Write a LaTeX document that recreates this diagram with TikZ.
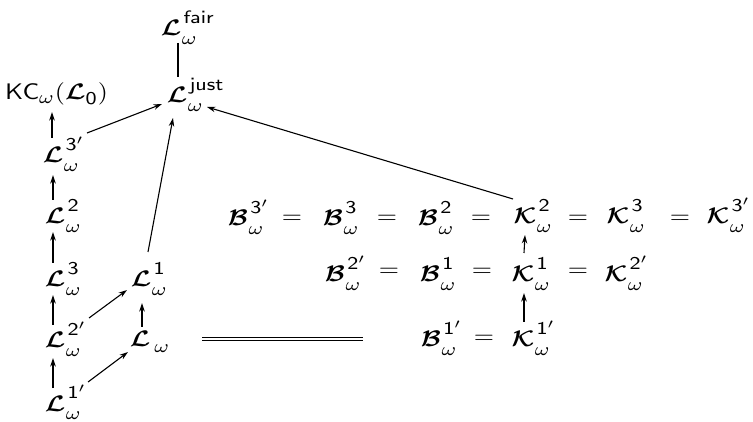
\documentclass[tikz,border=0pt]{standalone}
\usepackage{amsmath}
\usepackage{graphicx}
\usetikzlibrary{arrows.meta}
\DeclareMathSizes{10}{10}{8}{6}
\newcommand\Sz[1]{\scalebox{2.6}[2.25]{#1}}
% main letter with subscript omega and a superscript, scripts not counted in width
\newcommand\ScW[2]{\Sz{$\boldsymbol{\mathcal{#1}}$\rlap{\kern0.2pt\raisebox{-3.9pt}{$\scriptstyle\omega$}}\rlap{\kern0.9pt\raisebox{5.4pt}{$\scriptstyle\mathsf{#2}$}}}}
\begin{document}
\begin{tikzpicture}[x=1pt,y=-1pt,
  every node/.style={inner sep=0pt},
  sym/.style={anchor=base},
  eq/.style={anchor=center},
  arr/.style={line width=1.1pt,-{Stealth[length=8.5pt,width=5.5pt]}},
  ln/.style={line width=1.1pt},
  dbl/.style={double, double distance=2.2pt, line width=0.8pt}]
\useasboundingbox (0,0) rectangle (753,422);
% left part
\node[sym] (lf) at (171,36) {\ScW{L}{fair}};
\node[sym] (lj) at (177,103) {\ScW{L}{just}};
\node[anchor=base west] (kc) at (5,100) {\Sz{$\mathsf{KC}_\omega(\boldsymbol{\mathcal{L}}_{\mathsf{0}})$}};
\node[sym] (l3p) at (53,163) {\ScW{L}{3'}};
\node[sym] (l2) at (55,224) {\ScW{L}{2}};
\node[sym] (l3) at (55,287) {\ScW{L}{3}};
\node[sym] (l2p) at (55,348) {\ScW{L}{2'}};
\node[sym] (l1p) at (55,411) {\ScW{L}{1'}};
\node[sym] (l1) at (141,287) {\ScW{L}{1}};
\node[sym] (lw) at (140,347) {\Sz{$\boldsymbol{\mathcal{L}}$\rlap{\kern1.6pt\raisebox{-2.3pt}{$\scriptstyle\omega$}}}};
% right part, row 1
\node[sym] (b3p) at (238,226) {\ScW{B}{3'}};
\node[sym] (b3) at (333,226) {\ScW{B}{3}};
\node[sym] (b2) at (428,226) {\ScW{B}{2}};
\node[sym] (k2) at (525,224) {\ScW{K}{2}};
\node[sym] (k3) at (618,224) {\ScW{K}{3}};
\node[sym] (k3p) at (718,224) {\ScW{K}{3'}};
\node[eq] (e1) at (292,219) {\Sz{$=$}};
\node[eq] (e2) at (387,219) {\Sz{$=$}};
\node[eq] (e3) at (481,219) {\Sz{$=$}};
\node[eq] (e4) at (578,219) {\Sz{$=$}};
\node[eq] (e5) at (680,219) {\Sz{$=$}};
% row 2
\node[sym] (b2p) at (335,282) {\ScW{B}{2'}};
\node[sym] (b1) at (430,282) {\ScW{B}{1}};
\node[sym] (k1) at (523,282) {\ScW{K}{1}};
\node[sym] (k2p) at (616,282) {\ScW{K}{2'}};
\node[eq] (e6) at (389,272) {\Sz{$=$}};
\node[eq] (e7) at (482,272) {\Sz{$=$}};
\node[eq] (e8) at (578,272) {\Sz{$=$}};
% row 3
\node[sym] (b1p) at (431,347) {\ScW{B}{1'}};
\node[sym] (k1p) at (523,347) {\ScW{K}{1'}};
\node[eq] (e9) at (484,339) {\Sz{$=$}};
% connectors
\draw[ln] ([shift={(7,7)}]lf.base) -- ([shift={(1,-26)}]lj.base);
\draw[arr] ([shift={(-1,-25)}]l3p.base) -- ([shift={(47,12)}]kc.base west);
\draw[arr] ([shift={(34,-30)}]l3p.base) -- ([shift={(-15,1)}]lj.base);
\draw[arr] ([shift={(-2,-24)}]l2.base) -- ([shift={(0,12)}]l3p.base);
\draw[arr] ([shift={(-2,-24)}]l3.base) -- ([shift={(-2,8)}]l2.base);
\draw[arr] ([shift={(-2,-23)}]l2p.base) -- ([shift={(-2,8)}]l3.base);
\draw[arr] ([shift={(-2,-23)}]l1p.base) -- ([shift={(-2,10)}]l2p.base);
\draw[arr] ([shift={(34,-30)}]l2p.base) -- ([shift={(-14,3)}]l1.base);
\draw[arr] ([shift={(33,-29)}]l1p.base) -- ([shift={(-12,5)}]lw.base);
\draw[arr] ([shift={(2,-20)}]lw.base) -- ([shift={(1,16)}]l1.base);
\draw[arr] ([shift={(7,-35)}]l1.base) -- ([shift={(-4,15)}]lj.base);
\draw[arr] ([shift={(-12,-25)}]k2.base) -- ([shift={(30,4)}]lj.base);
\draw[arr] ([shift={(1,-29)}]k1.base) -- ([shift={(0,11)}]k2.base);
\draw[arr] ([shift={(1,-25)}]k1p.base) -- ([shift={(1,11)}]k1.base);
\coordinate (d1) at (202,339);
\coordinate (d2) at (363,339);
\draw[dbl] (d1) -- (d2);
\end{tikzpicture}
\end{document}
